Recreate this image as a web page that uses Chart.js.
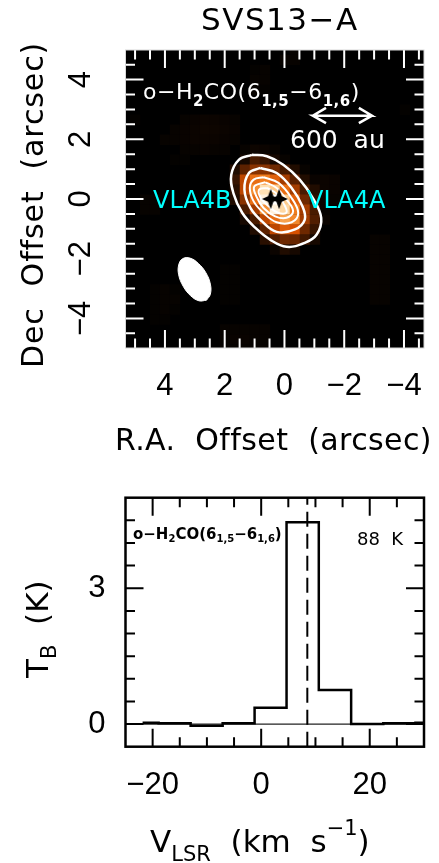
<!DOCTYPE html>
<html><head><meta charset="utf-8">
<style>
html,body{margin:0;padding:0;background:#fff;width:439px;height:863px;overflow:hidden}
canvas{position:absolute;left:0;display:block}
#mapC{top:0}#specC{top:470px}
</style>
<script src="https://cdn.jsdelivr.net/npm/chart.js@4"></script>
</head><body>
<canvas id="mapC" width="439" height="470"></canvas>
<canvas id="specC" width="439" height="393"></canvas>
<script>
// ---------- data: map panel ----------
const raTicks = [5,4.5,4,3.5,3,2.5,2,1.5,1,0.5,0,-0.5,-1,-1.5,-2,-2.5,-3,-3.5,-4,-4.5];
const raMajor = [4,2,0,-2,-4];
const decTicks = [4.5,4,3.5,3,2.5,2,1.5,1,0.5,0,-0.5,-1,-1.5,-2,-2.5,-3,-3.5,-4,-4.5];
const decMajor = [4,2,0,-2,-4];
const raCellFirst = 5.334, decCellFirst = 4.993, cellStep = 0.3344;
// brightness (0-100) of map cells, row by row from the top
const mapCells = [
[0,0,0,0,0,0,0,0,0,0,0,0,0,0,0,0,0,3,0,0,0,0,0,0,0,0,0,0,0,0,0],
[0,0,0,0,0,0,0,0,0,0,0,0,0,0,0,0,3,3,0,0,0,0,0,0,0,0,0,0,0,0,0],
[0,0,0,0,0,0,0,0,0,0,0,0,0,2,3,0,0,0,0,0,0,0,0,0,0,0,0,0,0,0,0],
[0,0,0,0,0,0,0,0,0,0,0,0,0,3,3,0,0,0,0,0,0,0,0,0,0,0,0,0,0,0,0],
[0,0,0,0,0,0,0,0,0,0,0,0,0,3,2,0,0,0,0,0,0,0,0,0,0,0,0,0,0,0,0],
[0,0,0,0,0,0,0,0,0,0,0,0,0,0,0,0,0,0,0,0,0,0,0,0,0,0,0,0,0,0,0],
[0,0,0,0,0,0,0,0,0,0,0,0,0,0,0,0,0,0,0,0,0,0,0,0,0,0,0,0,2,0,0],
[0,2,0,0,0,0,3,4,5,5,4,3,0,0,0,0,0,0,0,0,0,0,0,0,0,0,0,0,0,0,0],
[0,0,0,0,0,3,4,5,6,6,5,4,0,0,0,0,0,0,0,0,0,0,0,0,0,0,0,0,0,0,0],
[0,0,0,0,3,3,4,5,5,5,4,3,0,0,0,0,0,0,0,0,0,0,0,0,0,0,0,0,0,0,0],
[0,0,0,0,0,0,3,3,4,3,3,0,3,6,5,3,0,0,0,0,0,0,0,0,0,0,0,0,0,0,0],
[0,0,0,0,0,2,2,0,0,0,0,0,8,20,15,8,3,0,0,0,0,0,0,0,0,0,0,0,0,0,0],
[0,0,0,0,0,0,0,0,0,0,0,10,25,35,35,30,20,10,3,0,0,0,0,0,0,0,0,0,0,0,0],
[0,0,0,0,0,0,0,0,0,0,0,15,45,60,65,55,40,25,10,4,5,4,0,0,0,0,0,0,0,0,0],
[0,0,0,0,0,0,0,0,0,0,0,12,45,70,90,85,60,40,20,10,5,4,0,0,0,0,0,0,0,0,0],
[0,0,3,3,0,0,0,0,0,0,0,10,35,60,95,100,85,55,30,12,4,3,0,0,0,0,0,0,0,0,0],
[0,0,3,3,0,0,0,0,0,0,0,0,20,40,70,95,88,65,40,20,3,0,0,0,0,0,0,0,0,0,0],
[0,0,0,0,0,0,0,0,0,0,0,0,8,20,45,60,75,68,40,22,5,0,0,0,0,0,0,0,0,0,0],
[0,0,0,0,0,0,0,0,0,0,0,0,0,10,25,45,55,50,30,15,0,0,0,0,0,0,0,0,0,0,0],
[0,0,0,0,0,0,0,0,0,0,0,0,0,0,12,22,30,28,18,8,0,0,0,0,0,3,3,0,0,0,0],
[0,0,0,0,0,0,0,0,0,0,0,0,0,0,0,5,10,8,0,0,0,0,0,0,0,3,3,0,0,0,0],
[0,0,0,0,0,0,0,0,0,0,0,0,0,0,0,0,0,0,0,0,0,0,0,0,0,3,3,0,0,0,0],
[0,0,0,0,0,0,0,0,0,0,2,2,0,0,0,0,0,0,0,0,0,0,0,0,0,3,3,0,0,0,0],
[0,0,0,0,0,0,0,0,0,0,2,2,0,0,0,0,0,0,0,0,0,0,0,0,0,3,3,0,0,0,0],
[0,0,0,2,3,2,0,0,0,0,2,2,0,0,0,0,0,0,0,0,0,0,0,0,0,3,3,0,0,0,0],
[0,0,0,2,3,3,0,0,0,0,2,2,0,0,0,0,0,0,0,0,0,0,0,0,0,3,3,0,0,0,0],
[0,0,0,2,3,2,0,0,0,0,0,0,0,0,0,0,0,0,0,0,0,0,0,0,0,0,0,0,0,0,0],
[0,0,0,2,2,0,0,0,0,0,0,0,0,0,0,0,0,0,0,0,0,0,0,0,0,0,0,0,0,0,0],
[0,0,0,0,0,0,0,0,0,0,3,3,3,3,3,0,0,0,0,0,0,0,0,0,0,0,0,0,0,0,0],
[0,0,0,0,0,0,0,0,0,0,3,4,4,3,3,0,0,0,0,0,0,0,0,0,0,0,0,0,0,0,0],
[0,0,0,0,0,0,0,0,0,0,3,3,3,3,3,0,0,0,0,0,0,0,0,0,0,0,0,0,0,0,0]
];
const heatStops = [0,6,15,30,50,65,80,90,100];
const heatColors = [[0,0,0],[13,5,0],[55,20,0],[110,40,0],[215,80,0],[240,125,30],[252,180,100],[255,225,180],[255,255,255]];
// contours: [R.A., Dec] in arcsec, read by eye
const contour1 = [[1.09,1.48],[0.59,1.43],[0.04,1.15],[-0.51,0.65],[-0.95,0.03],[-1.23,-0.63],[-1.08,-1.19],[-0.68,-1.47],[-0.07,-1.60],[0.48,-1.36],[0.97,-0.97],[1.41,-0.47],[1.71,0.20],[1.78,0.81],[1.52,1.32],[1.09,1.48]];
const contour2 = [[0.81,1.04],[0.26,0.87],[-0.24,0.37],[-0.60,-0.24],[-0.68,-0.69],[-0.35,-1.02],[0.26,-1.10],[0.75,-0.75],[1.14,-0.30],[1.34,0.31],[1.19,0.87],[0.81,1.04]];
const contour3 = [[0.70,0.73],[0.20,0.54],[-0.24,0.03],[-0.46,-0.47],[-0.24,-0.78],[0.26,-0.78],[0.70,-0.47],[1.03,-0.08],[1.16,0.37],[1.03,0.65],[0.70,0.73]];
const contour4 = [[0.64,0.56],[0.26,0.37],[-0.07,-0.02],[-0.29,-0.41],[-0.07,-0.63],[0.31,-0.58],[0.70,-0.30],[0.94,0.09],[1.01,0.42],[0.64,0.56]];
const contour5 = [[0.59,0.37],[0.26,0.18],[0.04,-0.13],[-0.07,-0.45],[0.20,-0.47],[0.53,-0.24],[0.79,0.03],[0.85,0.31],[0.59,0.37]];
const beamShape = [[2.61,-3.39],[2.48,-3.19],[2.48,-2.85],[2.63,-2.47],[2.88,-2.16],[3.16,-1.98],[3.41,-2.00],[3.54,-2.21],[3.54,-2.54],[3.39,-2.92],[3.14,-3.24],[2.86,-3.41],[2.61,-3.39]];
const scaleBar = [[-1.39,3.05],[-0.95,2.79],[-1.39,2.54],[-0.95,2.79],[-2.93,2.79],[-2.49,3.05],[-2.93,2.79],[-2.49,2.54]];
const starsRa = [0.46,0.18];
const starsDec = [0,0];
// ---------- data: spectrum panel ----------
const vChannels = [-21.85,-15.95,-10.05,-4.15,1.72,7.63,13.6,19.55,25.45,31.4];
const tbValues  = [0.03,0.02,-0.04,0.02,0.36,4.46,0.75,0.0,0.02,0.03];
const vSystemic = 8.5;
const vTicks = [-20,-15,-10,-5,0,5,10,15,20,25];
const vMajor = [-20,0,20];
const tTicks = [0,0.5,1,1.5,2,2.5,3,3.5,4,4.5];
const tMajor = [0,3];
// ---------- texts ----------
const mapTitle = 'SVS13\u2212A', raTitle = 'R.A.\u00a0\u00a0Offset\u00a0\u00a0(arcsec)', decTitle = 'Dec\u00a0\u00a0Offset\u00a0\u00a0(arcsec)';
const scaleLabel = '600\u00a0\u00a0au', srcB = 'VLA4B', srcA = 'VLA4A', tempLabel = '88\u00a0\u00a0K';

const SANS = '"DejaVu Sans"', NUM = '"Liberation Sans"';
const minus = v => String(v).replace('-', '\u2212');

function heatColor(v){
  let i = 0;
  while (i < heatStops.length - 2 && v > heatStops[i+1]) i++;
  const f = (v - heatStops[i]) / (heatStops[i+1] - heatStops[i]);
  const a = heatColors[i], b = heatColors[i+1];
  return 'rgb(' + a.map((c,k) => Math.round(c + (b[k]-c)*f)).join(',') + ')';
}
const heatPts = [], heatCols = [];
mapCells.forEach((row,r) => row.forEach((v,c) => {
  if (v > 0) { heatPts.push({x: raCellFirst - c*cellStep, y: decCellFirst - r*cellStep}); heatCols.push(heatColor(v)); }
}));
const toXY = a => a.map(p => ({x:p[0], y:p[1]}));

function starCanvas(){
  const c = document.createElement('canvas'); c.width = 20; c.height = 22;
  const g = c.getContext('2d'); g.translate(10,11); g.fillStyle = '#000'; g.beginPath();
  const w=8.8,h=10.2,n=2.7;
  g.moveTo(0,-h); g.lineTo(n,-n); g.lineTo(w,0); g.lineTo(n,n); g.lineTo(0,h); g.lineTo(-n,n); g.lineTo(-w,0); g.lineTo(-n,-n); g.closePath(); g.fill();
  return c;
}

// rich text: segments [text, size, baselineShift, weight]
function rich(ctx, x, y, segs, color, family, spacing, rot){
  ctx.save(); ctx.translate(x,y); if (rot) ctx.rotate(rot);
  ctx.fillStyle = color; ctx.textAlign = 'left'; ctx.textBaseline = 'alphabetic';
  ctx.letterSpacing = (spacing||0) + 'px';
  let cx = 0;
  segs.forEach(s => {
    ctx.font = (s[3]||'normal') + ' ' + s[1] + 'px ' + family;
    ctx.fillText(s[0], cx, s[2]||0);
    cx += ctx.measureText(s[0]).width;
  });
  ctx.restore();
}
function ticksPlugin(color, xTicks, xMaj, yTicks, yMaj, lw){
  return { id:'inTicks', afterDatasetsDraw(chart){
    const {ctx, chartArea:a, scales:{x,y}} = chart;
    ctx.save(); ctx.strokeStyle = color; ctx.lineWidth = lw; ctx.beginPath();
    xTicks.forEach(v => { const p = x.getPixelForValue(v), l = xMaj.includes(v) ? 18 : 9.5;
      ctx.moveTo(p,a.top); ctx.lineTo(p,a.top+l); ctx.moveTo(p,a.bottom); ctx.lineTo(p,a.bottom-l); });
    yTicks.forEach(v => { const p = y.getPixelForValue(v), l = yMaj.includes(v) ? 18 : 9.5;
      ctx.moveTo(a.left,p); ctx.lineTo(a.left+l,p); ctx.moveTo(a.right,p); ctx.lineTo(a.right-l,p); });
    ctx.stroke(); ctx.restore();
  }};
}
const fixBox = (w,h) => s => { if (w) s.width = w; if (h) s.height = h; s.paddingLeft=s.paddingRight=s.paddingTop=s.paddingBottom=0; };
const setTicks = list => s => { s.ticks = list.map(v => ({value:v})); };

const mapTextPlugin = { id:'mapText',
  afterDatasetsDraw(chart){
    const ctx = chart.ctx, a = chart.chartArea;
    ctx.save(); ctx.strokeStyle = '#d8d8d8'; ctx.lineWidth = 1; ctx.strokeRect(a.left,a.top,a.right-a.left,a.bottom-a.top); ctx.restore();
    rich(ctx,143,99,[['o\u2212H',22],['2',15,7,'bold'],['CO(6',22],['1,5',15,7,'bold'],['\u22126',22],['1,6',15,7,'bold'],[')',22]],'#fff',SANS,0.5);
    rich(ctx,290,148,[[scaleLabel,25]],'#fff',SANS,0);
    rich(ctx,153,208,[[srcB,24]],'#00ffff',SANS,0);
    rich(ctx,307,208,[[srcA,24]],'#00ffff',SANS,0);
    rich(ctx,201,30,[[mapTitle,31]],'#000',SANS,1.5);
    rich(ctx,115,450,[[raTitle,30]],'#000',SANS,0.4);
    rich(ctx,43,368,[[decTitle,30]],'#000',SANS,0.9,-Math.PI/2);
  },
  beforeDatasetsDraw(chart){
    const {ctx, chartArea:a} = chart; ctx.save(); ctx.fillStyle='#000'; ctx.fillRect(a.left,a.top,a.right-a.left,a.bottom-a.top); ctx.restore();
  }
};
const line = (pts,extra) => Object.assign({data:toXY(pts), showLine:true, pointRadius:0, borderColor:'#fff', borderWidth:2.5, tension:0.4, fill:false}, extra||{});

new Chart(document.getElementById('mapC'), {
  type:'scatter',
  data:{datasets:[
    {label:'YSOs', data:starsRa.map((x,i)=>({x,y:starsDec[i]})), pointStyle:starCanvas(), pointRadius:10, showLine:false},
    line(contour5,{borderWidth:2}), line(contour4,{borderWidth:2}), line(contour3,{borderWidth:2}), line(contour2), line(contour1),
    line(scaleBar,{tension:0}),
    line(beamShape,{backgroundColor:'#fff', fill:'shape', borderWidth:1}),
    {label:'map', data:heatPts, pointStyle:'rect', pointRadius:7.35, pointBorderWidth:0, pointBackgroundColor:heatCols, showLine:false}
  ]},
  options:{ responsive:false, animation:false, devicePixelRatio:1,
    layout:{padding:{top:50,left:0,right:15,bottom:0}},
    plugins:{legend:{display:false}, tooltip:{enabled:false}},
    scales:{
      x:{type:'linear', reverse:true, min:-4.67, max:5.32, grid:{display:false,drawTicks:false}, border:{display:false},
        afterBuildTicks:setTicks(raTicks), afterFit:fixBox(0,122),
        ticks:{autoSkip:false,maxRotation:0,padding:20,color:'#000',font:{family:NUM,size:31},
          callback:v=>raMajor.includes(v)?minus(v):''}},
      y:{type:'linear', min:-4.99, max:4.99, grid:{display:false,drawTicks:false}, border:{display:false},
        afterBuildTicks:setTicks(decTicks), afterFit:fixBox(125.5,0),
        ticks:{autoSkip:false,minRotation:90,maxRotation:90,crossAlign:'center',padding:26,color:'#000',font:{family:NUM,size:31},
          callback:v=>decMajor.includes(v)?minus(v):''}}
    }},
  plugins:[ticksPlugin('#fff',raTicks,raMajor,decTicks,decMajor,2), mapTextPlugin]
});

const TOP2 = 470;
const specTextPlugin = { id:'specText',
  afterDatasetsDraw(chart){
    const ctx = chart.ctx, a = chart.chartArea;
    ctx.save(); ctx.strokeStyle='#000'; ctx.lineWidth=2.5; ctx.strokeRect(a.left,a.top,a.right-a.left,a.bottom-a.top); ctx.restore();
    rich(ctx,133,539-TOP2,[['o\u2212H',15,0,'bold'],['2',10,3,'bold'],['CO(6',15,0,'bold'],['1,5',10,3,'bold'],['\u22126',15,0,'bold'],['1,6',10,3,'bold'],[')',15,0,'bold']],'#000',SANS,0);
    rich(ctx,357,545-TOP2,[[tempLabel,18]],'#000',SANS,0);
    rich(ctx,48,678-TOP2,[['T',31],['B',21,8],['\u00a0\u00a0(K)',31]],'#000',SANS,0,-Math.PI/2);
    rich(ctx,150,852-TOP2,[['V',31],['LSR',21,9],['\u00a0\u00a0(km\u00a0\u00a0s',31],['\u22121',21,-17],[')',31]],'#000',SANS,0);
  }
};
new Chart(document.getElementById('specC'), {
  type:'scatter',
  data:{datasets:[
    {label:'spectrum', data:vChannels.map((x,i)=>({x,y:tbValues[i]})), showLine:true, stepped:'middle', pointRadius:0, borderColor:'#000', borderWidth:2.5, fill:false},
    {label:'Vsys', data:[{x:vSystemic,y:-0.5},{x:vSystemic,y:5}], showLine:true, pointRadius:0, borderColor:'#000', borderWidth:2, borderDash:[15,7]},
    {label:'zero', data:[{x:-25,y:0},{x:30,y:0}], showLine:true, pointRadius:0, borderColor:'#222', borderWidth:1.2}
  ]},
  options:{ responsive:false, animation:false, devicePixelRatio:1,
    layout:{padding:{top:27.7,left:0,right:15,bottom:0}},
    plugins:{legend:{display:false}, tooltip:{enabled:false}},
    scales:{
      x:{type:'linear', min:-25, max:30, grid:{display:false,drawTicks:false}, border:{display:false},
        afterBuildTicks:setTicks(vTicks), afterFit:fixBox(0,116.3),
        ticks:{autoSkip:false,maxRotation:0,padding:20,color:'#000',font:{family:NUM,size:31},
          callback:v=>vMajor.includes(v)?minus(v):''}},
      y:{type:'linear', min:-0.5, max:5, grid:{display:false,drawTicks:false}, border:{display:false},
        afterBuildTicks:setTicks(tTicks), afterFit:fixBox(125.5,0),
        ticks:{autoSkip:false,padding:20,color:'#000',font:{family:NUM,size:31},
          callback:v=>tMajor.includes(v)?minus(v):''}}
    }},
  plugins:[ticksPlugin('#000',vTicks,vMajor,tTicks,tMajor,2), specTextPlugin]
});
</script>
</body></html>
